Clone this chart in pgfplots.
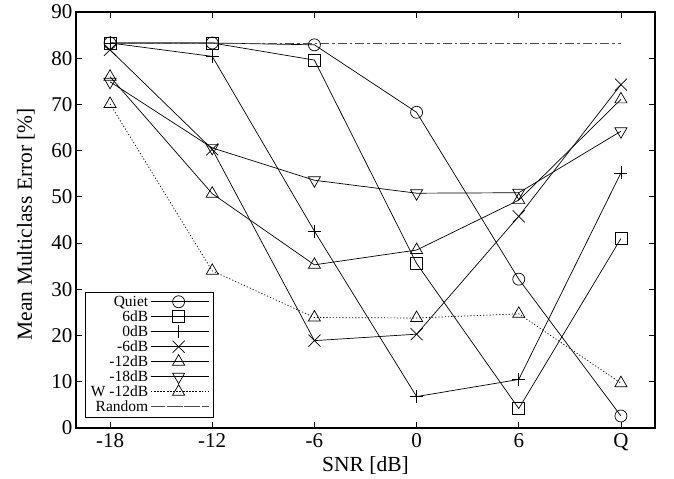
\documentclass[border=0pt]{standalone}
\usepackage{pgfplots}
\pgfplotsset{compat=1.18}
\usepackage{fontspec}
\setmainfont{Liberation Serif}
\begin{document}
\begin{tikzpicture}
\useasboundingbox (-76bp,-51bp) rectangle (598bp,428bp);
\begin{axis}[
  scale only axis,
  width=579bp, height=416bp,
  xmin=-0.3333, xmax=5.3333,
  ymin=0, ymax=90,
  xtick={0,1,2,3,4,5},
  xticklabels={-18,-12,-6,0,6,Q},
  ytick={0,10,...,90},
  tick align=inside,
  major tick length=6bp,
  axis line style={line width=1.2bp},
  every tick/.style={line width=0.8bp, black},
  /pgf/number format/assume math mode=true,
  tick label style={font=\fontsize{21bp}{25bp}\selectfont},
  xticklabel style={yshift=-2bp},
  label style={font=\fontsize{21.5bp}{25bp}\selectfont},
  xlabel={SNR [dB]},
  ylabel={Mean Multiclass Error [\%]},
  xlabel style={at={(axis description cs:0.5,-0.0913)}, anchor=center},
  ylabel style={at={(axis description cs:-0.0864,0.49)}, anchor=center},
  legend plot pos=right,
  legend cell align=right,
  legend style={at={(axis description cs:0.015,0.026)}, anchor=south west,
    font=\fontsize{15.5bp}{15.5bp}\selectfont, draw=black, line width=0.6bp,
    row sep=-1.2bp, inner xsep=4bp, inner ysep=2bp},
  legend image code/.code={\path (0bp,0bp) -- (58bp,0bp);
    \draw[mark repeat=2,mark phase=2] plot coordinates {(4bp,0bp) (28bp,0bp) (52bp,0bp)};},
  every axis plot/.append style={line width=0.7bp, black},
]
\addplot[mark=o, mark size=6bp] coordinates {(0,83.3)(1,83.3)(2,82.9)(3,68.3)(4,32.2)(5,2.6)};
\addlegendentry{Quiet}
\addplot[mark=square, mark size=6bp] coordinates {(0,83.3)(1,83.3)(2,79.6)(3,35.6)(4,4.2)(5,41.0)};
\addlegendentry{6dB}
\addplot[mark=+, mark size=6.5bp] coordinates {(0,83.3)(1,80.4)(2,42.6)(3,6.8)(4,10.5)(5,55.2)};
\addlegendentry{0dB}
\addplot[mark=x, mark size=8.5bp] coordinates {(0,81.8)(1,60.3)(2,18.9)(3,20.3)(4,45.8)(5,74.3)};
\addlegendentry{-6dB}
\addplot[mark=triangle, mark size=7bp] coordinates {(0,76.0)(1,50.7)(2,35.3)(3,38.5)(4,49.3)(5,71.1)};
\addlegendentry{-12dB}
\addplot[mark=triangle, mark size=7bp, mark options={rotate=180}] coordinates {(0,74.9)(1,60.6)(2,53.6)(3,50.8)(4,50.9)(5,64.2)};
\addlegendentry{-18dB}
\addplot[mark=triangle, mark size=7bp, dash pattern=on 1.2bp off 2bp, mark options={solid}] coordinates {(0,70.1)(1,34.0)(2,23.9)(3,23.8)(4,24.7)(5,9.7)};
\addlegendentry{W -12dB}
\addplot[color=black!70, line width=0.8bp, dash pattern=on 9bp off 3bp on 2.5bp off 3bp] coordinates {(0,83.3)(5,83.3)};
\addlegendentry{Random}
\end{axis}
\end{tikzpicture}
\end{document}
